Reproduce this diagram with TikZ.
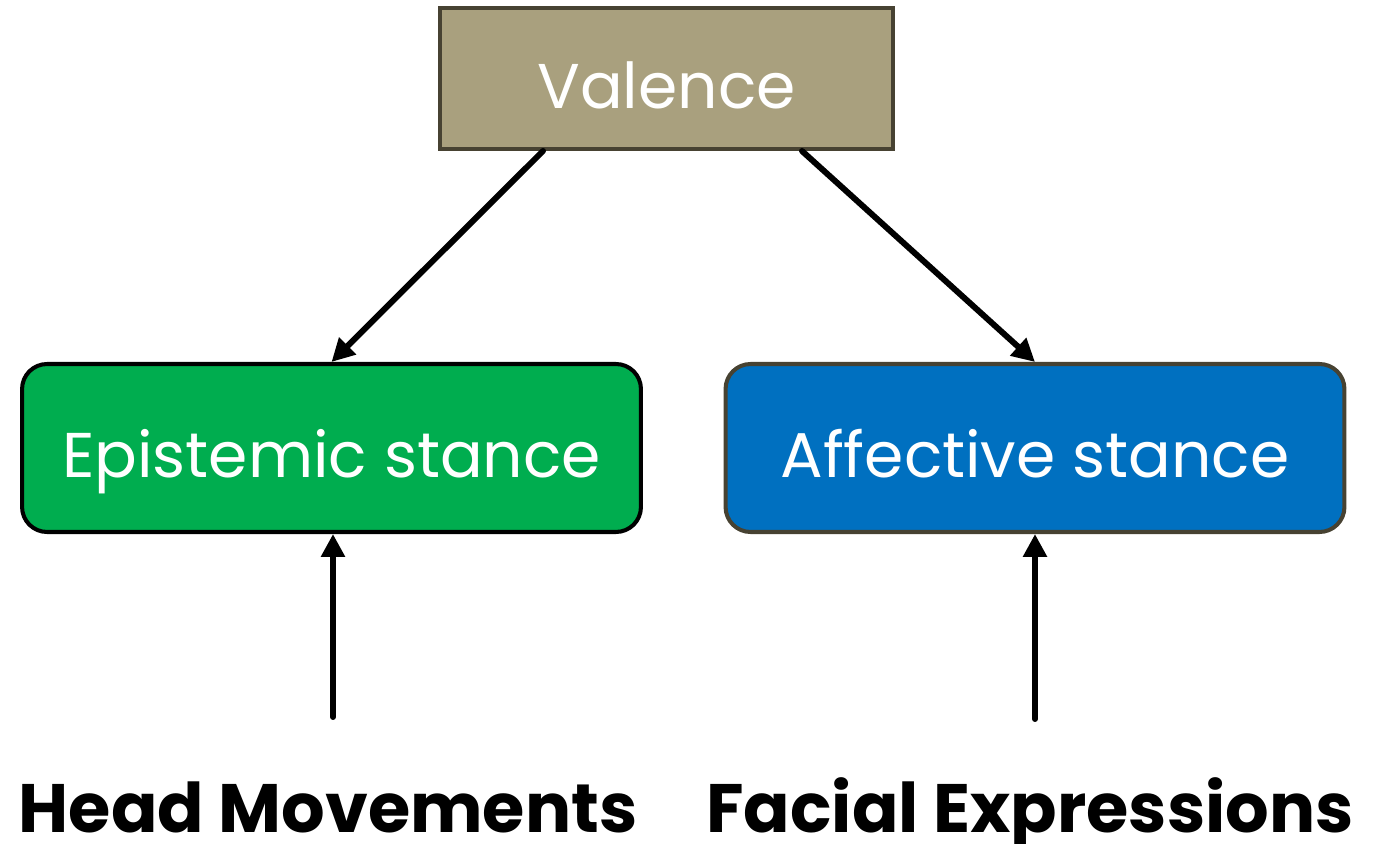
\documentclass[tikz,border=0pt]{standalone}
\usepackage{fontspec}
\setmainfont{Poppins}
\usepackage{tikz}
\usetikzlibrary{arrows.meta}
\definecolor{valtan}{HTML}{A9A07E}
\definecolor{valedge}{HTML}{474232}
\definecolor{epigreen}{HTML}{00AD4F}
\definecolor{affblue}{HTML}{0070C0}

\begin{document}
\begin{tikzpicture}[x=0.02cm,y=-0.02cm,
  box/.style={draw,line width=2.3pt,text=white,inner sep=0pt,
    text height=1.2cm,text depth=0cm,
    font=\fontsize{36}{36}\selectfont},
  link/.style={line width=3.4pt,line cap=round,-{Triangle[length=13pt,width=13pt]}},
  source/.style={anchor=base,font=\fontsize{39}{39}\selectfont\bfseries}]
\useasboundingbox (0,0) rectangle (1389,844);
\node[box,fill=valtan,draw=valedge,minimum width=9.06cm,minimum height=2.82cm] (val) at (666.5,78.5) {Valence};
\node[box,fill=epigreen,draw=black,rounded corners=0.5cm,minimum width=12.38cm,minimum height=3.36cm] (epi) at (331.5,448) {Epistemic stance};
\node[box,fill=affblue,draw=valedge,rounded corners=0.5cm,minimum width=12.38cm,minimum height=3.36cm] (aff) at (1035,448) {Affective stance};
\draw[link] ([xshift=2.1cm]val.south west) -- (epi.north);
\draw[link] ([xshift=-1.86cm]val.south east) -- (aff.north);
\coordinate (hm) at (333,717);
\coordinate (fe) at (1035,719);
\draw[link] (hm) -- ([xshift=0.03cm]epi.south);
\draw[link] (fe) -- (aff.south);
\node[source] (hmtext) at (328,832) {Head Movements};
\node[source] (fetext) at (1030,832) {Facial Expressions};
\end{tikzpicture}
\end{document}
